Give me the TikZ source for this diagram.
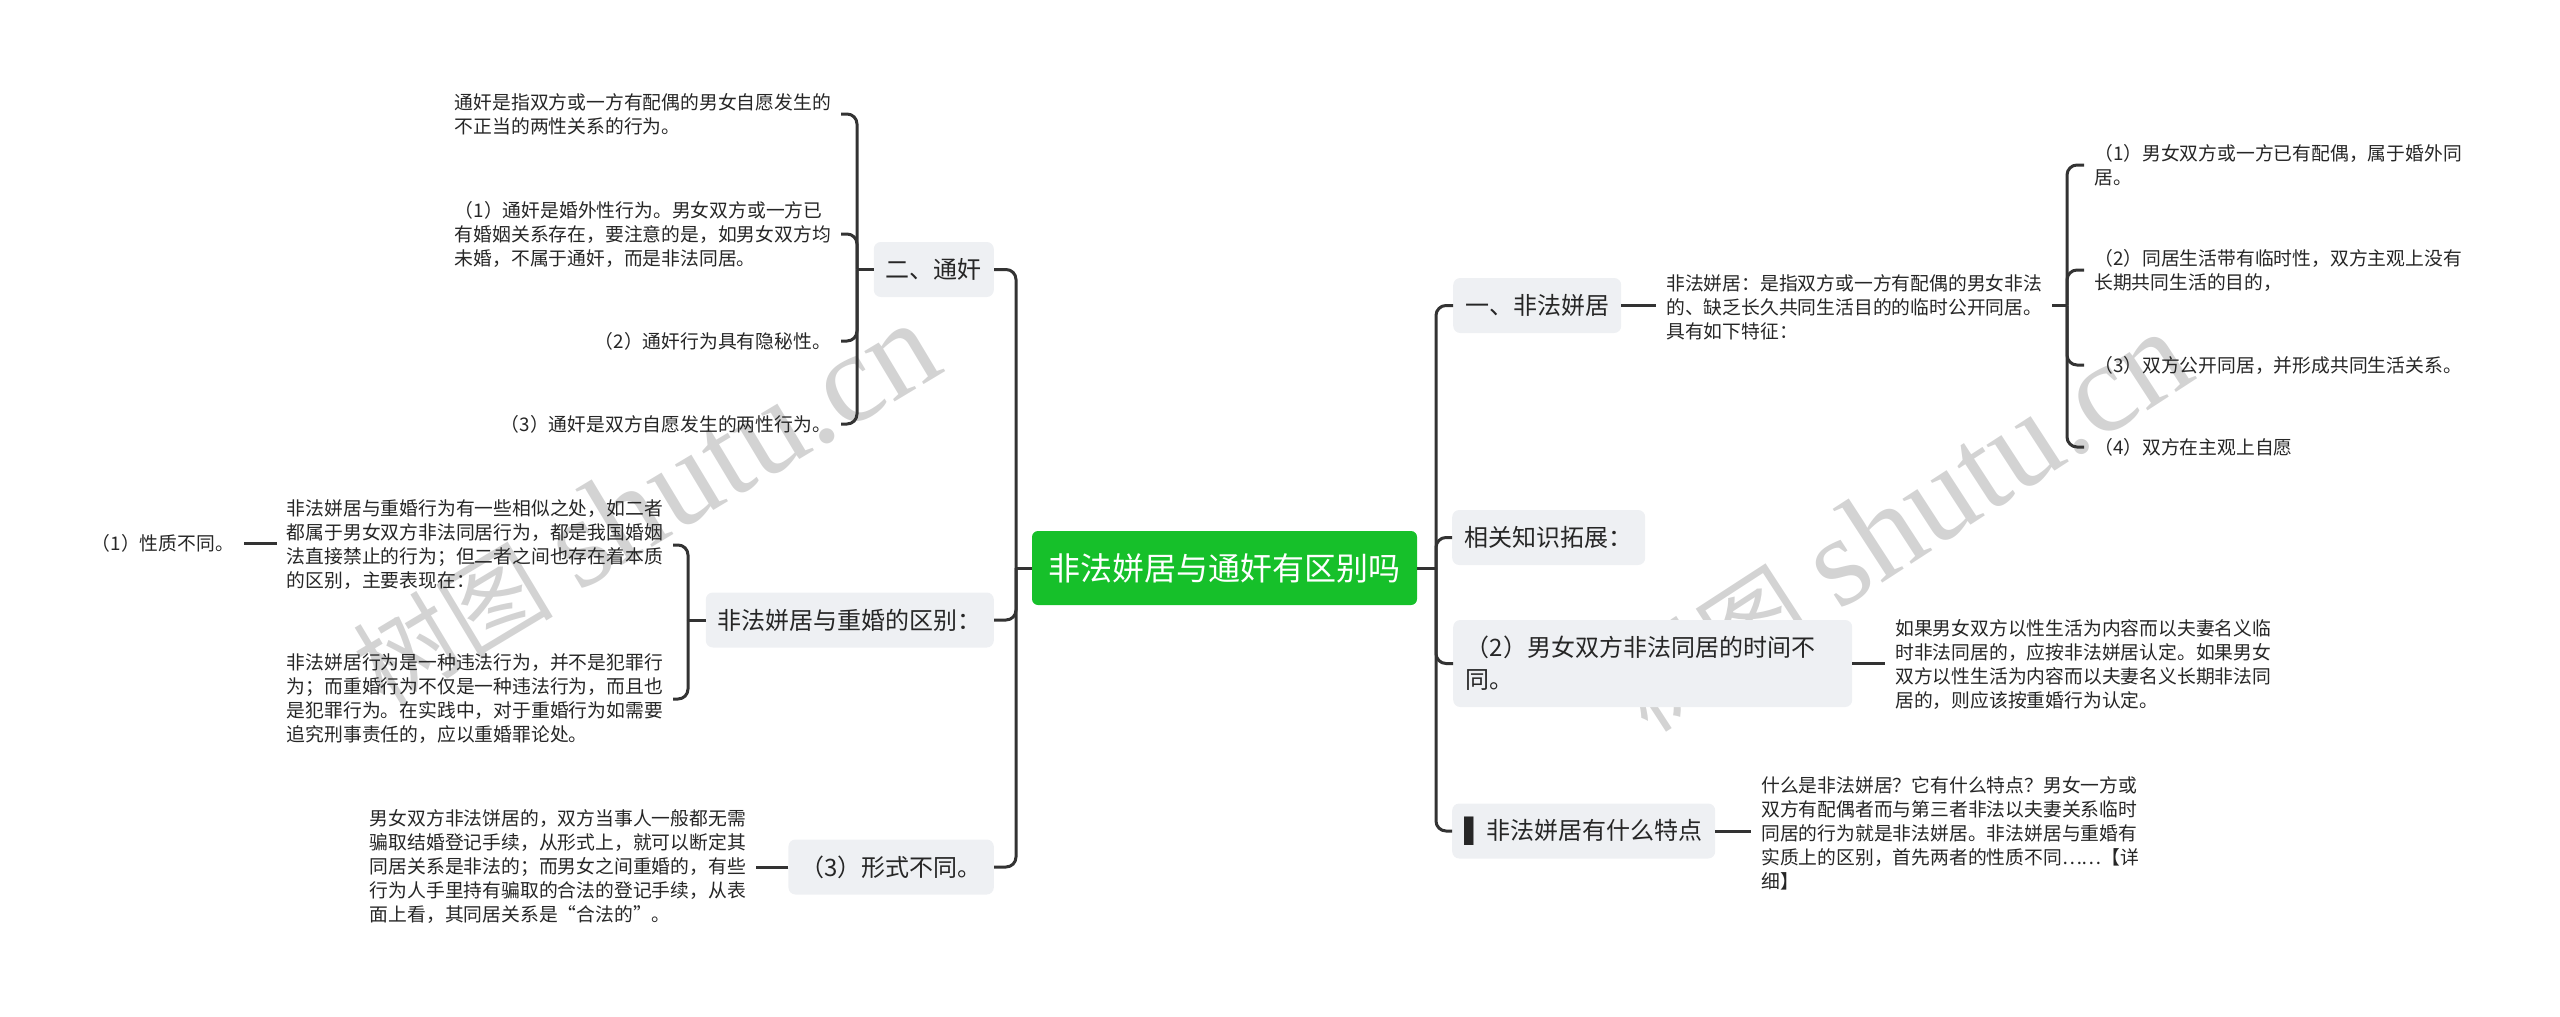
\documentclass[tikz,border=0pt]{standalone}
\usepackage{fontspec}
\setmainfont{Noto Sans CJK SC}
\newfontfamily\dejavu{DejaVu Sans}
\newfontfamily\wmserif{Liberation Serif}
\usetikzlibrary{calc}
\definecolor{connc}{HTML}{333333}
\definecolor{boxfill}{HTML}{EEF0F3}
\definecolor{rootgreen}{HTML}{16C02A}
\definecolor{txt}{HTML}{262626}
\definecolor{wmc}{HTML}{C8C8C8}
\begin{document}
\begin{tikzpicture}[x=1pt,y=-1pt,
  line/.style={draw=connc, line width=3pt},
  conn/.style={draw=connc, line width=3pt, rounded corners=10pt},
  rootbox/.style={fill=rootgreen, rounded corners=6pt, text=white, font=\fontsize{32}{38}\selectfont, minimum width=385pt, minimum height=74pt, inner sep=0pt},
  topic/.style={fill=boxfill, rounded corners=7pt, text=txt, font=\fontsize{24}{32}\selectfont, inner xsep=12pt, inner ysep=0pt, minimum height=55pt},
  small/.style={text=txt, font=\fontsize{18.8}{24}\selectfont, align=left, inner xsep=10pt, inner ysep=0pt},
  wmk/.style={text=wmc, inner sep=0pt, opacity=0.8}
]
\useasboundingbox (0,0) rectangle (2560,1017);

% watermarks
\node[wmk, rotate=31] (wm1) at (645,505) {{\fontsize{100}{100}\selectfont 树图}\hspace{26pt}{\wmserif\fontsize{128}{128}\selectfont shutu.cn}};
\node[wmk, rotate=33] (wm2) at (1902,522) {{\fontsize{100}{100}\selectfont 树图}\hspace{26pt}{\wmserif\fontsize{128}{128}\selectfont shutu.cn}};

% root
\node[rootbox] (root) at (1224.5,568) {非法姘居与通奸有区别吗};

% right level 1
\node[topic, anchor=west, minimum width=167pt] (R1) at (1453,305.5) {一、非法姘居};
\node[topic, anchor=west, minimum width=193pt] (R2) at (1452,537.5) {相关知识拓展：};
\node[topic, anchor=west, minimum width=399pt, minimum height=87pt, text width=374pt, inner xsep=12.5pt, align=left] (R3) at (1453,663.5) {（2）男女双方非法同居的时间不\\同。};
\node[topic, anchor=west, minimum width=263pt] (R4) at (1452,831) {{\dejavu ▌}\hspace{4pt}非法姘居有什么特点};

% left level 1
\node[topic, anchor=east, minimum width=119pt] (L1) at (994,269.5) {二、通奸};
\node[topic, anchor=east, minimum width=286pt] (L2) at (994,620) {非法姘居与重婚的区别：};
\node[topic, anchor=east, minimum width=205pt] (L3) at (994,867) {（3）形式不同。};

% right texts
\node[small, anchor=west] (r1t) at (1656,307) {非法姘居：是指双方或一方有配偶的男女非法\\的、缺乏长久共同生活目的的临时公开同居。\\具有如下特征：};
\node[small, anchor=west] (r1a) at (2084,165) {（1）男女双方或一方已有配偶，属于婚外同\\居。};
\node[small, anchor=west] (r1b) at (2084,270) {（2）同居生活带有临时性，双方主观上没有\\长期共同生活的目的，};
\node[small, anchor=west] (r1c) at (2084,365) {（3）双方公开同居，并形成共同生活关系。};
\node[small, anchor=west] (r1d) at (2084,447) {（4）双方在主观上自愿};
\node[small, anchor=west] (r3t) at (1885,665) {如果男女双方以性生活为内容而以夫妻名义临\\时非法同居的，应按非法姘居认定。如果男女\\双方以性生活为内容而以夫妻名义长期非法同\\居的，则应该按重婚行为认定。};
\node[small, anchor=west] (r4t) at (1751,833) {什么是非法姘居？它有什么特点？男女一方或\\双方有配偶者而与第三者非法以夫妻关系临时\\同居的行为就是非法姘居。非法姘居与重婚有\\实质上的区别，首先两者的性质不同……【详\\细】};

% left texts
\node[small, anchor=east] (t1) at (841,114) {通奸是指双方或一方有配偶的男女自愿发生的\\不正当的两性关系的行为。};
\node[small, anchor=east] (t2) at (841,234) {（1）通奸是婚外性行为。男女双方或一方已\\有婚姻关系存在，要注意的是，如男女双方均\\未婚，不属于通奸，而是非法同居。};
\node[small, anchor=east] (t3) at (841,341) {（2）通奸行为具有隐秘性。};
\node[small, anchor=east] (t4) at (841,424) {（3）通奸是双方自愿发生的两性行为。};
\node[small, anchor=east] (t5) at (673,545) {非法姘居与重婚行为有一些相似之处，如二者\\都属于男女双方非法同居行为，都是我国婚姻\\法直接禁止的行为；但二者之间也存在着本质\\的区别，主要表现在：};
\node[small, anchor=east] (pz) at (244,543) {（1）性质不同。};
\node[small, anchor=east] (t6) at (673,699) {非法姘居行为是一种违法行为，并不是犯罪行\\为；而重婚行为不仅是一种违法行为，而且也\\是犯罪行为。在实践中，对于重婚行为如需要\\追究刑事责任的，应以重婚罪论处。};
\node[small, anchor=east] (l3t) at (756,867) {男女双方非法饼居的，双方当事人一般都无需\\骗取结婚登记手续，从形式上，就可以断定其\\同居关系是非法的；而男女之间重婚的，有些\\行为人手里持有骗取的合法的登记手续，从表\\面上看，其同居关系是“合法的”。};

% main spines
\coordinate (rj) at (1436,568);
\coordinate (lj) at (1016,568);
\draw[line] (root.east) -- (rj);
\draw[line] (root.west) -- (lj);
\foreach \n in {R1,R2,R3,R4} \draw[conn] (rj) |- (\n.west);
\foreach \n in {L1,L2,L3} \draw[conn] (lj) |- (\n.east);

% right sub connectors
\draw[line] (R1.east) -- (R1.east -| r1t.west);
\coordinate (r1j) at (2067,305.5);
\draw[line] (r1t.east |- r1j) -- (r1j);
\foreach \n in {r1a,r1b,r1c,r1d} \draw[conn] (r1j) |- (\n.west);
\draw[line] (R3.east) -- (R3.east -| r3t.west);
\draw[line] (R4.east) -- (R4.east -| r4t.west);

% left sub connectors
\coordinate (l1j) at (857,269.5);
\draw[line] (L1.west) -- (l1j);
\foreach \n in {t1,t2,t3,t4} \draw[conn] (l1j) |- (\n.east);
\coordinate (l2j) at (688,620);
\draw[line] (L2.west) -- (l2j);
\foreach \n in {t5,t6} \draw[conn] (l2j) |- (\n.east);
\draw[line] (t5.west |- pz.east) -- (pz.east);
\draw[line] (L3.west) -- (L3.west -| l3t.east);
\end{tikzpicture}
\end{document}
